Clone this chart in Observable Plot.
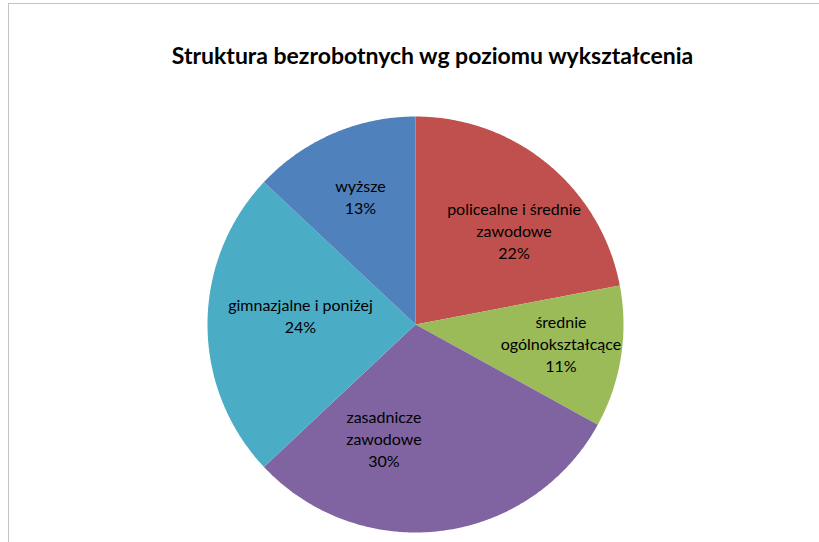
<!DOCTYPE html>
<html><head><meta charset="utf-8">
<script src="https://cdn.jsdelivr.net/npm/d3@7"></script>
<script src="https://cdn.jsdelivr.net/npm/@observablehq/plot@0.6"></script>
<style>
body{margin:0;background:#fff;}
#wrap{position:relative;width:819px;height:542px;overflow:hidden;background:#fff;}
#chart{position:absolute;left:0;top:0;}
#frame{position:absolute;left:8px;top:3px;width:840px;height:580px;border:1px solid #c4c4c4;box-sizing:border-box;}
#title{position:absolute;left:0;top:41px;width:865px;text-align:center;font:bold 23px Lato, "Open Sans", sans-serif;color:#000;white-space:nowrap;}
</style></head>
<body>
<div id="wrap"><div id="chart"></div><div id="frame"></div><div id="title"></div></div>
<script>
// ---- data ----
const title = "Struktura bezrobotnych wg poziomu wykształcenia";
const categories = ["policealne i średnie zawodowe", "średnie ogólnokształcące", "zasadnicze zawodowe", "gimnazjalne i poniżej", "wyższe"];
const labelLines = ["policealne i średnie\nzawodowe", "średnie\nogólnokształcące", "zasadnicze\nzawodowe", "gimnazjalne i poniżej", "wyższe"];
const shares = [22, 11, 30, 24, 13];
const colors = ["#C0504D", "#9BBB59", "#8064A2", "#4BACC6", "#4F81BD"];

// ---- layout ----
const W = 819, H = 542, cx = 415, cy = 324, R = 208;
const labelRadius = 0.63;
const labelNudge = [[15, 6], [16, -2], [-48, -17], [16, -10], [-3, -8]]; // px

document.getElementById("title").textContent = title;

const total = d3.sum(shares);
let acc = 0;
const slices = shares.map((v, i) => {
  const a0 = acc / total * 2 * Math.PI;
  acc += v;
  const a1 = acc / total * 2 * Math.PI;
  return {cat: categories[i], label: labelLines[i] + "\n" + Math.round(v / total * 100) + "%", a0, a1, i};
});

const pts = [];
for (const s of slices) {
  pts.push({cat: s.cat, x: 0, y: 0});
  const n = Math.max(2, Math.ceil((s.a1 - s.a0) / (Math.PI / 360)));
  for (let k = 0; k <= n; k++) {
    const a = s.a0 + (s.a1 - s.a0) * k / n;
    pts.push({cat: s.cat, x: Math.sin(a), y: Math.cos(a)});
  }
  pts.push({cat: s.cat, x: 0, y: 0});
}

const labels = slices.map(s => {
  const a = (s.a0 + s.a1) / 2;
  return {
    text: s.label,
    x: labelRadius * Math.sin(a) + labelNudge[s.i][0] / R,
    y: labelRadius * Math.cos(a) - labelNudge[s.i][1] / R
  };
});

const chart = Plot.plot({
  width: W, height: H,
  marginTop: 0, marginRight: 0, marginBottom: 0, marginLeft: 0,
  style: {background: "transparent", overflow: "visible"},
  x: {domain: [-cx / R, (W - cx) / R], axis: null},
  y: {domain: [-(H - cy) / R, cy / R], axis: null},
  color: {domain: categories, range: colors},
  marks: [
    Plot.line(pts, {x: "x", y: "y", z: "cat", fill: "cat", stroke: null, curve: "linear"}),
    Plot.text(labels, {x: "x", y: "y", text: "text", fill: "#000", fontSize: 16, lineHeight: 1.38, fontFamily: "Lato, 'Open Sans', sans-serif"})
  ]
});
document.getElementById("chart").appendChild(chart);
</script>
</body></html>
